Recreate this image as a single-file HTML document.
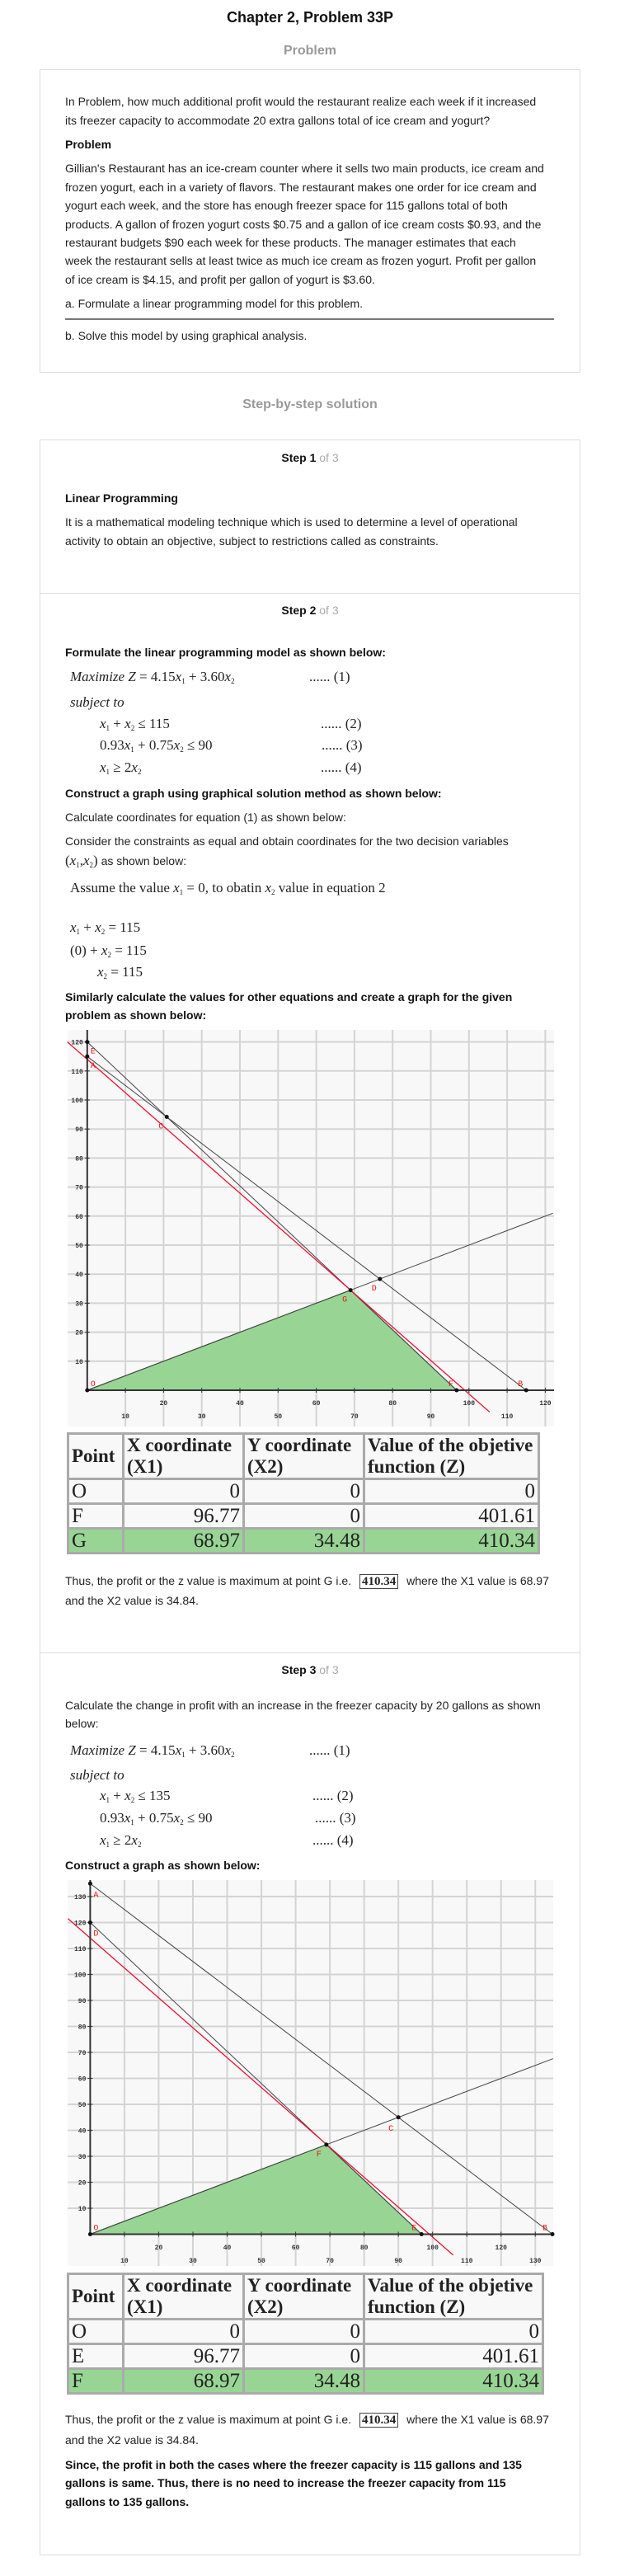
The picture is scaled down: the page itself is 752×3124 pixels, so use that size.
<!DOCTYPE html>
<html><head><meta charset="utf-8">
<style>
body{margin:0;background:#fff;}
#page{position:relative;width:752px;height:3124px;overflow:hidden;font-family:"Liberation Sans",Arial,sans-serif;color:#222;}
.t{position:absolute;left:79px;font-size:14px;line-height:18px;white-space:nowrap;}
.b{font-weight:bold;color:#111;}
.m{position:absolute;font-family:"Liberation Serif",serif;font-size:17px;line-height:20px;white-space:nowrap;color:#222;}
.m i{font-style:italic;}
sub{font-size:9px;vertical-align:-3px;}
.box{position:absolute;border:1px solid #ddd;}
.hr{position:absolute;height:1px;background:#ddd;}
table.res{position:absolute;border-collapse:collapse;font-family:"Liberation Serif",serif;background:#f8f8f8;}
table.res td{border:3px solid #aaa;padding:0 3px;font-size:25px;line-height:27px;height:26px;}
table.res tr.h td{font-weight:bold;font-size:23px;line-height:26px;vertical-align:top;}
table.res td.n{text-align:right;}
table.res tr.g td{background:#98d594;}
.bx{font-family:"Liberation Serif",serif;font-weight:bold;font-size:15px;border:1px solid #444;padding:0 2px;margin:0 6px;}
</style></head><body>
<div id="page">
<div style="position:absolute;top:11px;left:0;width:752px;text-align:center;font-weight:bold;font-size:18px;color:#111;">Chapter 2, Problem 33P</div>
<div style="position:absolute;top:53px;left:0;width:752px;text-align:center;font-weight:bold;font-size:16px;color:#999;">Problem</div>
<div class="box" style="left:48px;top:84px;width:654px;height:366px;"></div>
<div class="t" style="top:114px">In Problem, how much additional profit would the restaurant realize each week if it increased</div>
<div class="t" style="top:137px">its freezer capacity to accommodate 20 extra gallons total of ice cream and yogurt?</div>
<div class="t b" style="top:166px">Problem</div>
<div class="t" style="top:195px">Gillian's Restaurant has an ice-cream counter where it sells two main products, ice cream and</div>
<div class="t" style="top:218px">frozen yogurt, each in a variety of flavors. The restaurant makes one order for ice cream and</div>
<div class="t" style="top:240px">yogurt each week, and the store has enough freezer space for 115 gallons total of both</div>
<div class="t" style="top:263px">products. A gallon of frozen yogurt costs $0.75 and a gallon of ice cream costs $0.93, and the</div>
<div class="t" style="top:285px">restaurant budgets $90 each week for these products. The manager estimates that each</div>
<div class="t" style="top:307px">week the restaurant sells at least twice as much ice cream as frozen yogurt. Profit per gallon</div>
<div class="t" style="top:330px">of ice cream is $4.15, and profit per gallon of yogurt is $3.60.</div>
<div class="t" style="top:359px">a. Formulate a linear programming model for this problem.</div>
<div style="position:absolute;left:79px;top:386px;width:593px;height:2px;background:#777;"></div>
<div class="t" style="top:398px">b. Solve this model by using graphical analysis.</div>

<div style="position:absolute;top:482px;left:0;width:752px;text-align:center;font-weight:bold;font-size:16px;color:#999;">Step-by-step solution</div>
<div class="box" style="left:48px;top:533px;width:654px;height:2564px;"></div>
<div class="hr" style="left:48px;top:719px;width:655px"></div>
<div class="hr" style="left:48px;top:2004px;width:655px"></div>

<div style="position:absolute;top:547px;left:0;width:752px;text-align:center;font-size:14px;"><b style="color:#111">Step 1</b> <span style="color:#aaa">of 3</span></div>
<div class="t b" style="top:595px">Linear Programming</div>
<div class="t" style="top:624px">It is a mathematical modeling technique which is used to determine a level of operational</div>
<div class="t" style="top:647px">activity to obtain an objective, subject to restrictions called as constraints.</div>

<div style="position:absolute;top:732px;left:0;width:752px;text-align:center;font-size:14px;"><b style="color:#111">Step 2</b> <span style="color:#aaa">of 3</span></div>
<div class="t b" style="top:782px">Formulate the linear programming model as shown below:</div>
<div class="m" style="left:85px;top:811px"><i>Maximize Z</i> = 4.15<i>x</i><sub>1</sub> + 3.60<i>x</i><sub>2</sub></div>
<div class="m" style="left:375px;top:811px">...... (1)</div>
<div class="m" style="left:85px;top:842px"><i>subject to</i></div>
<div class="m" style="left:121px;top:868px"><i>x</i><sub>1</sub> + <i>x</i><sub>2</sub> ≤ 115</div>
<div class="m" style="left:389px;top:868px">...... (2)</div>
<div class="m" style="left:121px;top:894px">0.93<i>x</i><sub>1</sub> + 0.75<i>x</i><sub>2</sub> ≤ 90</div>
<div class="m" style="left:390px;top:894px">...... (3)</div>
<div class="m" style="left:121px;top:921px"><i>x</i><sub>1</sub> ≥ 2<i>x</i><sub>2</sub></div>
<div class="m" style="left:389px;top:921px">...... (4)</div>
<div class="t b" style="top:953px">Construct a graph using graphical solution method as shown below:</div>
<div class="t" style="top:982px">Calculate coordinates for equation (1) as shown below:</div>
<div class="t" style="top:1011px">Consider the constraints as equal and obtain coordinates for the two decision variables</div>
<div class="t" style="top:1035px"><span style="font-family:'Liberation Serif',serif;font-size:17px">(<i>x</i><sub>1</sub>,<i>x</i><sub>2</sub>)</span> as shown below:</div>
<div class="m" style="left:85px;top:1067px">Assume the value <i>x</i><sub>1</sub> = 0, to obatin <i>x</i><sub>2</sub> value in equation 2</div>
<div class="m" style="left:85px;top:1115px"><i>x</i><sub>1</sub> + <i>x</i><sub>2</sub> = 115</div>
<div class="m" style="left:85px;top:1143px">(0) + <i>x</i><sub>2</sub> = 115</div>
<div class="m" style="left:118px;top:1169px"><i>x</i><sub>2</sub> = 115</div>
<div class="t b" style="top:1200px">Similarly calculate the values for other equations and create a graph for the given</div>
<div class="t b" style="top:1222px">problem as shown below:</div>

<table class="res" style="left:81px;top:1737px;width:574px;">
<tr class="h"><td style="width:58px;vertical-align:middle">Point</td><td style="width:137px">X coordinate (X1)</td><td style="width:137px">Y coordinate (X2)</td><td>Value of the objetive function (Z)</td></tr>
<tr><td>O</td><td class="n">0</td><td class="n">0</td><td class="n">0</td></tr>
<tr><td>F</td><td class="n">96.77</td><td class="n">0</td><td class="n">401.61</td></tr>
<tr class="g"><td>G</td><td class="n">68.97</td><td class="n">34.48</td><td class="n">410.34</td></tr>
</table>
<div class="t" style="top:1908px">Thus, the profit or the z value is maximum at point G i.e. <span class="bx">410.34</span> where the X1 value is 68.97</div>
<div class="t" style="top:1932px">and the X2 value is 34.84.</div>

<div style="position:absolute;top:2017px;left:0;width:752px;text-align:center;font-size:14px;"><b style="color:#111">Step 3</b> <span style="color:#aaa">of 3</span></div>
<div class="t" style="top:2059px">Calculate the change in profit with an increase in the freezer capacity by 20 gallons as shown</div>
<div class="t" style="top:2081px">below:</div>
<div class="m" style="left:85px;top:2113px"><i>Maximize Z</i> = 4.15<i>x</i><sub>1</sub> + 3.60<i>x</i><sub>2</sub></div>
<div class="m" style="left:375px;top:2113px">...... (1)</div>
<div class="m" style="left:85px;top:2143px"><i>subject to</i></div>
<div class="m" style="left:121px;top:2168px"><i>x</i><sub>1</sub> + <i>x</i><sub>2</sub> ≤ 135</div>
<div class="m" style="left:379px;top:2168px">...... (2)</div>
<div class="m" style="left:121px;top:2195px">0.93<i>x</i><sub>1</sub> + 0.75<i>x</i><sub>2</sub> ≤ 90</div>
<div class="m" style="left:382px;top:2195px">...... (3)</div>
<div class="m" style="left:121px;top:2222px"><i>x</i><sub>1</sub> ≥ 2<i>x</i><sub>2</sub></div>
<div class="m" style="left:379px;top:2222px">...... (4)</div>
<div class="t b" style="top:2253px">Construct a graph as shown below:</div>

<table class="res" style="left:81px;top:2756px;width:579px;">
<tr class="h"><td style="width:58px;vertical-align:middle">Point</td><td style="width:137px">X coordinate (X1)</td><td style="width:137px">Y coordinate (X2)</td><td>Value of the objetive function (Z)</td></tr>
<tr><td>O</td><td class="n">0</td><td class="n">0</td><td class="n">0</td></tr>
<tr><td>E</td><td class="n">96.77</td><td class="n">0</td><td class="n">401.61</td></tr>
<tr class="g"><td>F</td><td class="n">68.97</td><td class="n">34.48</td><td class="n">410.34</td></tr>
</table>
<div class="t" style="top:2925px">Thus, the profit or the z value is maximum at point G i.e. <span class="bx">410.34</span> where the X1 value is 68.97</div>
<div class="t" style="top:2950px">and the X2 value is 34.84.</div>
<div class="t b" style="top:2980px">Since, the profit in both the cases where the freezer capacity is 115 gallons and 135</div>
<div class="t b" style="top:3002px">gallons is same. Thus, there is no need to increase the freezer capacity from 115</div>
<div class="t b" style="top:3025px">gallons to 135 gallons.</div>

<svg id="charts" width="752" height="3124" style="position:absolute;left:0;top:0;pointer-events:none" xmlns="http://www.w3.org/2000/svg"></svg>
</div>
<script>
// ---- Chart 1 data (freezer 115) ----
var c1Lines = [[0,115,115,0],[0,120,96.77,0],[0,0,122,61]];
var c1Objective = [-5.2,120,105.4,-7.5];
var c1Feasible = [[0,0],[68.97,34.48],[96.77,0]];
var c1PointNames = ["E","A","C","D","G","F","B","O"];
var c1PointX = [0,0,20.83,76.67,68.97,96.77,115,0];
var c1PointY = [120,115,94.17,38.33,34.48,0,0,0];
var c1LabelDX = [4,4,-4,-4,-4,-4,-4,4];
var c1LabelDY = [14,14,14,14,14,-5,-5,-5];
var c1XTicks = [10,20,30,40,50,60,70,80,90,100,110,120];
var c1YTicks = [10,20,30,40,50,60,70,80,90,100,110,120];
// ---- Chart 2 data (freezer 135) ----
var c2Lines = [[0,135,135,0],[0,120,96.77,0],[0,0,135.2,67.6]];
var c2Objective = [-6.5,121.5,106,-8];
var c2Feasible = [[0,0],[68.97,34.48],[96.77,0]];
var c2PointNames = ["A","D","C","F","E","B","O"];
var c2PointX = [0,0,90,68.97,96.77,135,0];
var c2PointY = [135,120,45,34.48,0,0,0];
var c2LabelDX = [4,4,-6,-6,-6,-6,4];
var c2LabelDY = [16,16,16,14,-5,-5,-5];
var c2XTicks = [10,20,30,40,50,60,70,80,90,100,110,120,130];
var c2YTicks = [10,20,30,40,50,60,70,80,90,100,110,120,130];

var NS="http://www.w3.org/2000/svg";
var svg=document.getElementById('charts');
function mk(tag,attrs,parent){var e=document.createElementNS(NS,tag);for(var k in attrs)e.setAttribute(k,attrs[k]);(parent||svg).appendChild(e);return e;}

function drawChart(name,box,x0,xs,y0,ys,xTicks,yTicks,lines,obj,feas,pn,px,py,ldx,ldy,rowY){
  var X=function(v){return x0+v*xs;}, Y=function(v){return y0-v*ys;};
  var g=mk('g',{});
  
  
  var bg=mk('rect',{x:box[0],y:box[1],width:box[2]-box[0],height:box[3]-box[1],fill:'#f8f8f8'},g);
  
  
  var clip=mk('clipPath',{id:name+'-clip'},g);
  mk('rect',{x:box[0],y:box[1],width:box[2]-box[0],height:box[3]-box[1]},clip);
  var inner=mk('g',{'clip-path':'url(#'+name+'-clip)'},g);
  var i;
  for(i=0;i<xTicks.length;i++){var gl=mk('line',{x1:X(xTicks[i]),x2:X(xTicks[i]),y1:box[1],y2:box[3],stroke:'#d4d4d4','stroke-width':2},inner);}
  for(i=0;i<yTicks.length;i++){var gh=mk('line',{x1:box[0],x2:box[2],y1:Y(yTicks[i]),y2:Y(yTicks[i]),stroke:'#d4d4d4','stroke-width':2},inner);}
  var pts=feas.map(function(p){return X(p[0])+','+Y(p[1]);}).join(' ');
  var poly=mk('polygon',{points:pts,fill:'#98d594',stroke:'#333','stroke-width':1},inner);
  
  
  for(i=0;i<lines.length;i++){var l=lines[i];var cl=mk('line',{x1:X(l[0]),y1:Y(l[1]),x2:X(l[2]),y2:Y(l[3]),stroke:'#444','stroke-width':1},inner);}
  var ol=mk('line',{x1:X(obj[0]),y1:Y(obj[1]),x2:X(obj[2]),y2:Y(obj[3]),stroke:'#ee1133','stroke-width':1.3},g);
  
  
  var ax=mk('line',{x1:X(0),x2:X(0),y1:box[1],y2:Y(0),stroke:'#333','stroke-width':2},g);
  
  
  var ay=mk('line',{x1:X(0),x2:box[2],y1:Y(0),y2:Y(0),stroke:'#333','stroke-width':2},g);
  
  
  for(i=0;i<xTicks.length;i++){
    mk('line',{x1:X(xTicks[i]),x2:X(xTicks[i]),y1:Y(0)-3,y2:Y(0)+3,stroke:'#333'},g);
    var tx=mk('text',{x:X(xTicks[i]),y:(i%2==1?rowY[0]:rowY[1]),'text-anchor':'middle','font-family':'Liberation Mono, monospace','font-size':8,'font-weight':'bold',fill:'#333'},g);
    
    
    tx.textContent=xTicks[i];
  }
  for(i=0;i<yTicks.length;i++){
    mk('line',{x1:X(0)-3,x2:X(0)+3,y1:Y(yTicks[i]),y2:Y(yTicks[i]),stroke:'#333'},g);
    var ty=mk('text',{x:X(0)-5,y:Y(yTicks[i])+3,'text-anchor':'end','font-family':'Liberation Mono, monospace','font-size':8,'font-weight':'bold',fill:'#333'},g);
    
    
    ty.textContent=yTicks[i];
  }
  for(i=0;i<pn.length;i++){
    var d=mk('circle',{cx:X(px[i]),cy:Y(py[i]),r:2.5,fill:'#111'},g);
    
    
    var lt=mk('text',{x:X(px[i])+ldx[i],y:Y(py[i])+ldy[i],'text-anchor':ldx[i]<0?'end':'start','font-family':'Liberation Mono, monospace','font-size':10,fill:'#ee1111'},g);
    
    
    lt.textContent=pn[i];
  }
}
drawChart('graph-115',[82,1249,672,1730],105.8,4.63,1686,3.52,c1XTicks,c1YTicks,c1Lines,c1Objective,c1Feasible,c1PointNames,c1PointX,c1PointY,c1LabelDX,c1LabelDY,[1704,1720]);
drawChart('graph-135',[82,2280,671,2748],109.4,4.153,2709.5,3.15,c2XTicks,c2YTicks,c2Lines,c2Objective,c2Feasible,c2PointNames,c2PointX,c2PointY,c2LabelDX,c2LabelDY,[2728,2744]);
</script>
</body></html>
